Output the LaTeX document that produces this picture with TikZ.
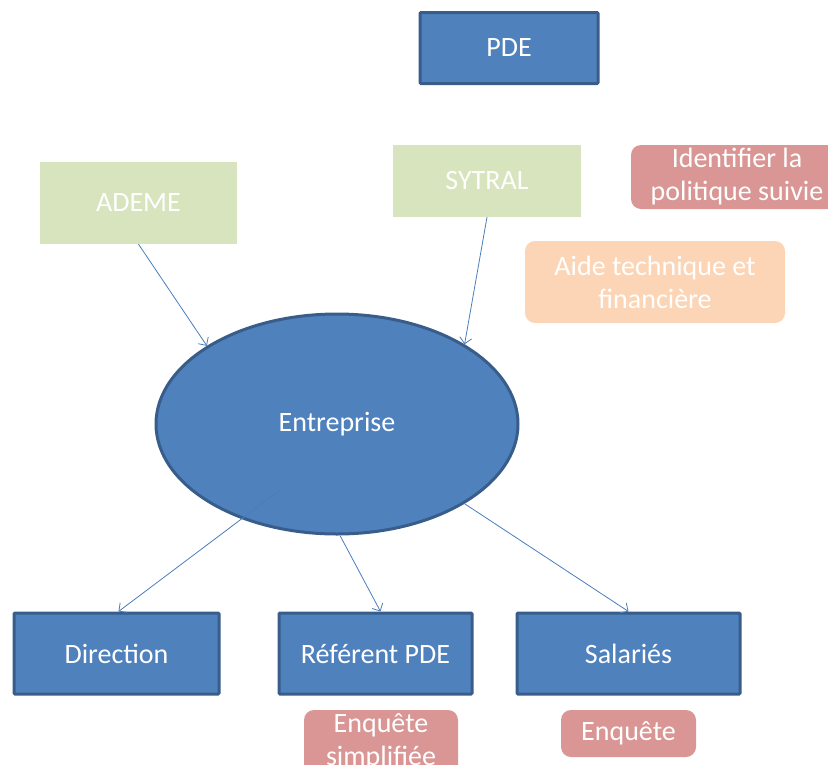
\documentclass[tikz,border=0pt]{standalone}
\usepackage{fontspec}
\setmainfont{Carlito}
\usetikzlibrary{shapes.geometric,arrows.meta}
\definecolor{boxblue}{HTML}{4F81BD}
\definecolor{edgeblue}{HTML}{385D8A}
\definecolor{lineblue}{HTML}{4A7EBB}
\definecolor{palegreen}{HTML}{D7E4BD}
\definecolor{rosebox}{HTML}{D99694}
\definecolor{peachbox}{HTML}{FBD5B5}
\tikzset{
  bluebox/.style = {rectangle, fill=boxblue, draw=edgeblue, line width=3pt,
                    text=white, inner sep=0pt, rounded corners=1pt},
  greenbox/.style = {rectangle, fill=palegreen, text=white, inner sep=0pt},
  notebox/.style = {rectangle, rounded corners=10pt, text=white, inner sep=0pt,
                    align=center},
  link/.style = {lineblue, line width=0.8pt, -{Straight Barb[length=6pt,width=12pt]}}
}

\begin{document}
\begin{tikzpicture}[x=1pt, y=-1pt, font=\fontsize{28}{33}\selectfont]
	\useasboundingbox (0,0) rectangle (828,764);
	\clip (0,0) rectangle (828,764);

	% Top
	\node[bluebox, minimum width=178, minimum height=71] (pde) at (509,48) {PDE};
	\node[greenbox, minimum width=197, minimum height=82] (ademe) at (138.5,203) {ADEME};
	\node[greenbox, minimum width=188, minimum height=72] (sytral) at (487,181) {SYTRAL};

	% Notes
	\node[notebox, fill=rosebox, minimum width=212, minimum height=64] (politique) at (737,177)
		{Identifier la\\politique suivie};
	\node[notebox, fill=peachbox, minimum width=260, minimum height=82] (aide) at (655,282)
		{Aide technique et\\financière};

	% Centre
	\node[ellipse, fill=boxblue, draw=edgeblue, line width=3pt, text=white,
		minimum width=362, minimum height=220, inner sep=0pt] (ent) at (337,424) {Entreprise};

	% Bottom
	\node[bluebox, minimum width=205, minimum height=81] (direction) at (116.5,653.5) {Direction};
	\node[bluebox, minimum width=193, minimum height=81] (referent) at (375.5,653.5) {Référent PDE};
	\node[bluebox, minimum width=223, minimum height=81] (salaries) at (628.5,653.5) {Salariés};

	\node[notebox, fill=rosebox, minimum width=154, minimum height=64] (simple) at (381,742)
		{Enquête\\simplifiée};
	\node[notebox, fill=rosebox, minimum width=135, minimum height=47] (enquete) at (628.5,733.5) {Enquête};

	% Links
	\coordinate (dirstart) at (280,490);
	\draw[link] (ademe.south) -- (ent.149);
	\draw[link] (sytral.south) -- (ent.32);
	\draw[link] (dirstart) -- ([xshift=2pt]direction.north);
	\draw[link] ([xshift=3pt]ent.south) -- ([xshift=5pt]referent.north);
	\draw[link] (ent.-32) -- (salaries.north);
\end{tikzpicture}
\end{document}
